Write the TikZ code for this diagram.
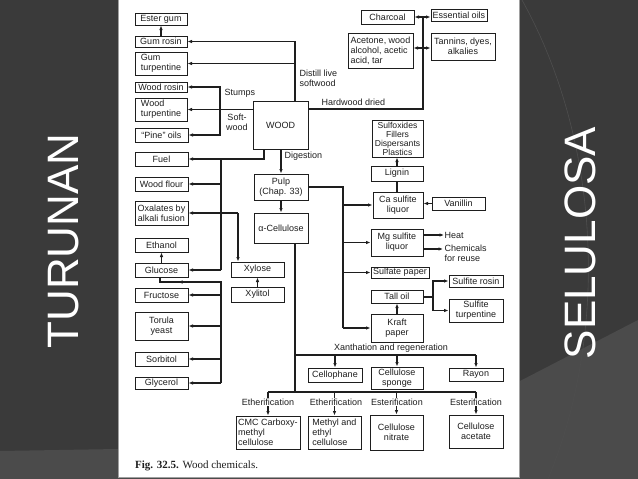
\documentclass[tikz,border=0pt]{standalone}
\usepackage{fontspec}
\setmainfont{Liberation Sans}
\newfontfamily\capfont{Liberation Serif}
\usetikzlibrary{arrows.meta}
\definecolor{bgdark}{HTML}{3A3A3A}
\definecolor{bglight}{HTML}{4B4B4B}
\definecolor{bgline}{HTML}{4E4E4E}
\definecolor{ink}{HTML}{1E1E1E}
\definecolor{panelborder}{HTML}{A0A0A0}
\newcommand\bx[7][]{\node[bx,#1,minimum width={(#5-#3)*1pt},minimum height={(#6-#4)*1pt}] (#2) at ({(#3+#5)/2},{(#4+#6)/2}) {#7};}
\begin{document}
\begin{tikzpicture}[x=1pt,y=-1pt,
  bx/.style={draw=ink,line width=1pt,inner sep=0pt,align=center,text=ink,font=\fontsize{9}{10}\selectfont},
  lbl/.style={inner sep=0.5pt,text=ink,font=\fontsize{9}{10}\selectfont},
  ln/.style={draw=ink,line width=1.05pt},
  arr/.style={ln,-{Latex[length=4.5pt,width=3.6pt]}},
  big/.style={text=white,font=\fontsize{44}{44}\selectfont,rotate=90}
]
% background
\fill[bgdark] (0,0) rectangle (638,479);
\useasboundingbox (0,0) rectangle (638,479);
\fill[bglight] (0,451) -- (118,449) -- (520,381) -- (638,320) -- (638,479) -- (0,479) -- cycle;
\draw[bgline, line width=0.6pt] (522,0) .. controls (600,140) and (610,330) .. (548,479);
\fill[white] (118,0) rectangle (519,477);
\draw[panelborder, line width=0.8pt] (118,-1) -- (118,477) -- (519,477) -- (519,-1);

\node[big] (tur) at (64,241) {TURUNAN};
\node[big] (sel) at (580,243) {SELULOSA};

% left column
\bx{ester}{135}{13}{187}{25}{Ester gum}
\bx{gumrosin}{135}{36}{187}{47}{Gum rosin}
\bx[align=left]{gumturp}{135}{52}{187}{75}{Gum\\turpentine}
\bx{woodrosin}{135}{82}{187}{92}{Wood rosin}
\bx[align=left]{woodturp}{135}{98}{187}{121}{Wood\\turpentine}
\bx{pine}{135}{128}{188}{142}{“Pine” oils}
\bx{fuel}{135}{152}{188}{166}{Fuel}
\bx{flour}{135}{177}{188}{191}{Wood flour}
\bx{oxal}{135}{201}{188}{225}{Oxalates by\\alkali fusion}
\bx{ethanol}{135}{238}{188}{252}{Ethanol}
\bx{glucose}{135}{263}{188}{277}{Glucose}
\bx{fructose}{135}{288}{188}{302}{Fructose}
\bx{torula}{135}{312}{188}{340}{Torula\\yeast}
\bx{sorbitol}{135}{352}{188}{366}{Sorbitol}
\bx{glycerol}{135}{377}{188}{389}{Glycerol}

% middle
\bx{wood}{253}{101}{308}{149}{WOOD}
\bx{pulp}{254}{174}{308}{200}{Pulp\\(Chap. 33)}
\bx{acell}{254}{213}{308}{243}{α-Cellulose}
\bx{xylose}{231}{262}{284}{277}{Xylose}
\bx{xylitol}{231}{287}{284}{302}{Xylitol}

% top right
\bx{charcoal}{361}{10}{414}{24}{Charcoal}
\bx{essoils}{431}{9}{487}{21}{Essential oils}
\bx[align=left]{acetone}{348}{33}{413}{68}{Acetone, wood\\alcohol, acetic\\acid, tar}
\bx{tannins}{431}{33}{495}{60}{Tannins, dyes,\\alkalies}

% right column
\bx[font=\fontsize{8.6}{9}\selectfont]{sulfox}{372}{120}{423}{157}{Sulfoxides\\Fillers\\Dispersants\\Plastics}
\bx{lignin}{371}{166}{423}{181}{Lignin}
\bx{casulf}{373}{192}{423}{218}{Ca sulfite\\liquor}
\bx{vanillin}{432}{197}{485}{210}{Vanillin}
\bx{mgsulf}{371}{229}{423}{256}{Mg sulfite\\liquor}
\bx{sulfpaper}{371}{267}{429}{278}{Sulfate paper}
\bx{talloil}{371}{290}{423}{303}{Tall oil}
\bx{kraft}{371}{314}{423}{342}{Kraft\\paper}
\bx{sulfrosin}{449}{275}{503}{287}{Sulfite rosin}
\bx{sulfturp}{449}{299}{503}{322}{Sulfite\\turpentine}

% bottom
\bx{cello}{308}{368}{362}{382}{Cellophane}
\bx{sponge}{371}{367}{423}{389}{Cellulose\\sponge}
\bx{rayon}{449}{368}{503}{381}{Rayon}
\bx[align=left]{cmc}{236}{416}{300}{449}{CMC Carboxy-\\methyl\\cellulose}
\bx[align=left]{methyl}{308}{416}{361}{449}{Methyl and\\ethyl\\cellulose}
\bx{nitrate}{370}{415}{423}{450}{Cellulose\\nitrate}
\bx{acetate}{449}{415}{503}{448}{Cellulose\\acetate}

% labels
\node[lbl,anchor=west,align=left] (distill) at (299,78) {Distill live\\softwood};
\node[lbl,anchor=west] (stumps) at (224,93) {Stumps};
\node[lbl,align=center] (softw) at (237,122) {Soft-\\wood};
\node[lbl,anchor=west] (hardw) at (321,102) {Hardwood dried};
\node[lbl,anchor=west] (digest) at (284,156) {Digestion};
\node[lbl,anchor=west] (heat) at (444,235) {Heat};
\node[lbl,anchor=north west,align=left] (chem) at (444,244) {Chemicals\\for reuse};
\node[lbl] (xanth) at (391,348) {Xanthation and regeneration};

% connectors
\draw[arr] (gumrosin) -- (ester);
\coordinate (dsv) at (295,41);
\draw[arr] (wood.north -| dsv) -- (dsv |- gumrosin.east) -- (gumrosin.east);
\draw[arr] (dsv |- gumturp.east) -- (gumturp.east);

\coordinate (stj) at (220,0);
\draw[arr] (wood.west |- woodturp.east) -- (woodturp.east);
\draw[arr] (stj |- woodturp.east) -- (stj |- woodrosin.east) -- (woodrosin.east);
\draw[arr] (stj |- woodturp.east) -- (stj |- pine.east) -- (pine.east);

\coordinate (hw) at (423,109);
\draw[ln] (wood.east |- hw) -- (hw) -- (hw |- charcoal.east);
\draw[arr] (hw |- charcoal.east) -- (charcoal.east);
\draw[arr] (hw |- charcoal.east) -- (essoils.west |- charcoal.east);
\coordinate (acy) at (423,48);
\draw[arr] (acy) -- (acetone.east |- acy);
\draw[arr] (acy) -- (tannins.west |- acy);

\coordinate (fj) at (264,159);
\draw[arr] (wood.south -| fj) -- (fj) -- (fuel.east |- fj);
\coordinate (sp1) at (221,159);
\draw[ln] (sp1) -- (sp1 |- glucose.east);
\draw[arr] (sp1 |- flour.east) -- (flour.east);
\draw[arr] (sp1 |- glucose.east) -- (glucose.east);

\coordinate (ox) at (238,213);
\draw[arr] (ox) -- (oxal.east |- ox);
\draw[arr] (ox) -- (ox |- xylose.north);
\draw[arr] (xylitol) -- (xylose);
\draw[arr] (glucose) -- (ethanol);

\coordinate (g2) at (160,282);
\coordinate (sp2) at (221,282);
\coordinate (gm) at (178,282);
\draw[ln] (glucose.south -| g2) -- (g2) -- (sp2) -- (sp2 |- glycerol.east);
\draw[arr] (sp2) -- (gm);
\foreach \n in {fructose,torula,sorbitol,glycerol} \draw[arr] (sp2 |- \n.east) -- (\n.east);

\draw[arr] (wood.south -| pulp.north) -- (pulp.north);
\draw[arr] (pulp) -- (acell);
\coordinate (pr) at (343,187);
\draw[ln] (pulp.east |- pr) -- (pr) -- (pr |- kraft.west);
\foreach \n in {casulf,mgsulf,sulfpaper,kraft} \draw[arr] (pr |- \n.west) -- (\n.west);
\draw[arr] (lignin.north) -- (lignin.north |- sulfox.south);
\draw[ln] (lignin.south |- casulf.north) -- (lignin.south);
\draw[arr] (vanillin.west) -- (casulf.east |- vanillin.west);
\draw[arr] (mgsulf.east |- heat.west) -- (heat.west);
\coordinate (chy) at (443,249);
\draw[arr] (mgsulf.east |- chy) -- (chy);
\draw[arr] (kraft.north) -- (kraft.north |- talloil.south);
\coordinate (tj) at (433,297);
\draw[ln] (talloil.east |- tj) -- (tj);
\draw[arr] (tj) |- (sulfrosin.west);
\draw[arr] (tj) |- (sulfturp.west);

\coordinate (ac) at (295,392);
\coordinate (xa) at (295,355);
\draw[ln] (acell.south -| ac) -- (ac);
\draw[ln] (xa) -- (rayon.north |- xa);
\foreach \n in {cello,sponge,rayon} \draw[arr] (\n.north |- xa) -- (\n.north);
\draw[ln] (cmc.north |- ac) -- (acetate.north |- ac);
\foreach \n in {cmc,methyl,nitrate,acetate} \draw[arr] (\n.north |- ac) -- (\n.north);

\node[lbl,fill=white] (eth1) at (268,402) {Etherification};
\node[lbl,fill=white] (eth2) at (336,402) {Etherification};
\node[lbl,fill=white] (est1) at (397,402) {Esterification};
\node[lbl,fill=white] (est2) at (476,402) {Esterification};

\node[anchor=west,text=ink,inner sep=0pt,font=\capfont\fontsize{11}{11}\selectfont] (cap) at (135,466) {\textbf{Fig. 32.5.} Wood chemicals.};
\end{tikzpicture}
\end{document}
